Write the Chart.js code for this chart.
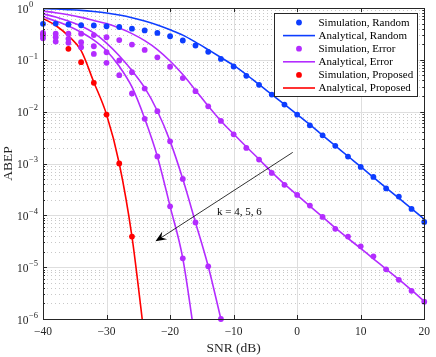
<!DOCTYPE html>
<html>
<head>
<meta charset="utf-8">
<script src="https://cdn.jsdelivr.net/npm/chart.js@4.4.0/dist/chart.umd.min.js"></script>
<style>
    html, body { margin: 0; padding: 0; background: #ffffff; }
    #wrap { width: 436px; height: 357px; }
</style>
</head>
<body>
<div id="wrap"><canvas id="chart" width="436" height="357"></canvas></div>
<script>
// SNR grid (dB), every 2 dB
const snr = [-40, -38, -36, -34, -32, -30, -28, -26, -24, -22, -20, -18, -16, -14, -12, -10,
    -8, -6, -4, -2, 0, 2, 4, 6, 8, 10, 12, 14, 16, 18, 20];

// Random
const simRandom = [0.495, 0.50, 0.48, 0.465, 0.46, 0.445, 0.43, 0.40, 0.37, 0.33, 0.285, 0.236, 0.189,
    0.143, 0.104, 0.0743, 0.0491, 0.0329, 0.0214, 0.0137, 0.0088, 0.00546, 0.0035, 0.00219, 0.00136,
    0.00086, 0.00055, 0.00033, 0.00023, 0.000133, 0.0000746];
const anaRandom = [0.97, 0.955, 0.93, 0.90, 0.855, 0.80, 0.73, 0.65, 0.56, 0.47, 0.38, 0.30, 0.22,
    0.157, 0.111, 0.078, 0.052, 0.0335, 0.0215, 0.0138, 0.0088, 0.0056, 0.0035, 0.0022, 0.00138,
    0.00087, 0.00054, 0.00034, 0.000215, 0.000135, 0.000084];

// Error, k = 4
const simErrK4 = [0.33, 0.32, 0.32, 0.32, 0.30, 0.273, 0.241, 0.197, 0.155, 0.112, 0.0736, 0.0445, 0.0248,
    0.0127, 0.00664, 0.00365, 0.002, 0.00119, 0.000659, 0.000387, 0.000248, 0.000154, 9.3e-5, 5.5e-5,
    3.9e-5, 2.52e-5, 1.62e-5, 9.1e-6, 5.7e-6, 3.5e-6, 2.16e-6];
const anaErrK4 = [0.87, 0.81, 0.74, 0.66, 0.575, 0.50, 0.41, 0.32, 0.234, 0.158, 0.095, 0.052, 0.026,
    0.0128, 0.0066, 0.0037, 0.0021, 0.00121, 0.00068, 0.0004, 0.000245, 0.00015, 9.3e-5, 5.7e-5,
    3.6e-5, 2.3e-5, 1.45e-5, 9.2e-6, 5.8e-6, 3.6e-6, 2.2e-6];

// Error, k = 5
const simErrK5 = [0.294, 0.273, 0.254, 0.219, 0.183, 0.14, 0.097, 0.0577, 0.0279, 0.0102, 0.00268,
    0.000504, 7.3e-5, 1.04e-5, 1.0e-6];
const anaErrK5 = [0.77, 0.67, 0.56, 0.45, 0.33, 0.21, 0.12, 0.062, 0.029, 0.0103, 0.0027, 0.0005,
    7.3e-5, 1.04e-5, 1.0e-6, 1.0e-7];

// Error, k = 6
const simErrK6 = [0.261, 0.226, 0.213, 0.175, 0.13, 0.0875, 0.0505, 0.0224, 0.00726, 0.00137, 0.000149, 1.48e-5];
const anaErrK6 = [0.68, 0.56, 0.45, 0.34, 0.24, 0.15, 0.075, 0.03, 0.0074, 0.00137, 0.000149, 1.48e-5, 3.5e-7];

// Proposed
const simProposed = [0.31, null, 0.163, 0.09, 0.036, 0.0088, 0.001, 3.9e-5];
const anaProposed = [0.63, 0.46, 0.29, 0.15, 0.037, 0.0088, 0.001, 3.9e-5, 4e-7];

// Axes
const xTicks = [-40, -30, -20, -10, 0, 10, 20];
const yDecades = [0, -1, -2, -3, -4, -5, -6];
const legendLabels = ['Simulation, Random', 'Analytical, Random', 'Simulation, Error',
    'Analytical, Error', 'Simulation, Proposed', 'Analytical, Proposed'];

// Annotation (data coordinates)
const arrowFrom = { x: -0.7, y: 1.64e-3 };
const arrowTo = { x: -22.3, y: 3.15e-5 };
const kLabel = { x: -12.6, y: 1.14e-4, text: 'k = 4, 5, 6' };

const SERIF = "'Liberation Serif', 'Times New Roman', serif";
const AXIS = '#262626';
const BLUE = '#0d3dff';
const PURPLE = '#b32cff';
const RED = '#ff0000';

function toPoints(ys) {
    return snr.map((x, i) => ({ x: x, y: ys[i] })).filter(p => p.y != null && p.y !== undefined);
}

function simSet(label, ys, color, order) {
    return {
        label: label,
        data: toPoints(ys),
        showLine: false,
        pointRadius: 2.9,
        pointBorderWidth: 0,
        pointBackgroundColor: color,
        borderColor: color,
        backgroundColor: color,
        clip: 5,
        order: order
    };
}

function anaSet(label, ys, color, order) {
    return {
        label: label,
        data: toPoints(ys),
        borderColor: color,
        backgroundColor: color,
        borderWidth: 1.6,
        pointRadius: 0,
        cubicInterpolationMode: 'monotone',
        order: order
    };
}

const px = v => Math.round(v) + 0.5;

const framePlugin = {
    id: 'frame',
    beforeDatasetsDraw(chart) {
        const { ctx, chartArea: a, scales: { x, y } } = chart;
        ctx.save();
        // minor grid (dotted)
        ctx.strokeStyle = '#c8c8c8';
        ctx.lineWidth = 1;
        ctx.setLineDash([1, 3]);
        yDecades.forEach(e => {
            if (e === 0) return;
            for (let m = 2; m <= 9; m++) {
                const yy = px(y.getPixelForValue(m * Math.pow(10, e)));
                ctx.beginPath();
                ctx.moveTo(a.left, yy);
                ctx.lineTo(a.right, yy);
                ctx.stroke();
            }
        });
        // major grid
        ctx.setLineDash([]);
        ctx.strokeStyle = '#dedede';
        xTicks.forEach(t => {
            const xx = px(x.getPixelForValue(t));
            ctx.beginPath();
            ctx.moveTo(xx, a.top);
            ctx.lineTo(xx, a.bottom);
            ctx.stroke();
        });
        yDecades.forEach(e => {
            const yy = px(y.getPixelForValue(Math.pow(10, e)));
            ctx.beginPath();
            ctx.moveTo(a.left, yy);
            ctx.lineTo(a.right, yy);
            ctx.stroke();
        });
        ctx.restore();
    },
    afterDatasetsDraw(chart) {
        const { ctx, chartArea: a, scales: { x, y } } = chart;
        ctx.save();

        // box
        ctx.strokeStyle = AXIS;
        ctx.lineWidth = 1;
        ctx.strokeRect(px(a.left), px(a.top), Math.round(a.right - a.left), Math.round(a.bottom - a.top));

        // inward ticks
        ctx.beginPath();
        xTicks.forEach(t => {
            const xx = px(x.getPixelForValue(t));
            ctx.moveTo(xx, a.bottom); ctx.lineTo(xx, a.bottom - 4);
            ctx.moveTo(xx, a.top); ctx.lineTo(xx, a.top + 4);
        });
        yDecades.forEach(e => {
            const yy = px(y.getPixelForValue(Math.pow(10, e)));
            ctx.moveTo(a.left, yy); ctx.lineTo(a.left + 4, yy);
            ctx.moveTo(a.right, yy); ctx.lineTo(a.right - 4, yy);
            if (e === 0) return;
            for (let m = 2; m <= 9; m++) {
                const ym = px(y.getPixelForValue(m * Math.pow(10, e)));
                ctx.moveTo(a.left, ym); ctx.lineTo(a.left + 2, ym);
                ctx.moveTo(a.right, ym); ctx.lineTo(a.right - 2, ym);
            }
        });
        ctx.stroke();

        // y tick labels 10^e
        ctx.fillStyle = AXIS;
        ctx.textAlign = 'left';
        ctx.textBaseline = 'middle';
        yDecades.forEach(e => {
            const yy = y.getPixelForValue(Math.pow(10, e));
            ctx.font = '11.5px ' + SERIF;
            ctx.fillText('10', 17, yy + 1.5);
            const w = ctx.measureText('10').width;
            ctx.font = '8.5px ' + SERIF;
            ctx.fillText(e === 0 ? '0' : '\u2212' + (-e), 17 + w + 0.5, yy - 3.5);
        });

        // arrow
        const x0 = x.getPixelForValue(arrowFrom.x), y0 = y.getPixelForValue(arrowFrom.y);
        const x1 = x.getPixelForValue(arrowTo.x), y1 = y.getPixelForValue(arrowTo.y);
        const ang = Math.atan2(y1 - y0, x1 - x0);
        ctx.strokeStyle = '#000000';
        ctx.lineWidth = 0.8;
        ctx.beginPath();
        ctx.moveTo(x0, y0);
        ctx.lineTo(x1 - 6 * Math.cos(ang), y1 - 6 * Math.sin(ang));
        ctx.stroke();
        const len = 11, half = 4.5, notch = 7;
        const cos = Math.cos(ang), sin = Math.sin(ang);
        ctx.fillStyle = '#000000';
        ctx.beginPath();
        ctx.moveTo(x1, y1);
        ctx.lineTo(x1 - len * cos - half * sin, y1 - len * sin + half * cos);
        ctx.lineTo(x1 - notch * cos, y1 - notch * sin);
        ctx.lineTo(x1 - len * cos + half * sin, y1 - len * sin - half * cos);
        ctx.closePath();
        ctx.fill();

        // k label
        ctx.fillStyle = '#000000';
        ctx.font = '11px ' + SERIF;
        ctx.textAlign = 'left';
        ctx.textBaseline = 'middle';
        ctx.fillText(kLabel.text, x.getPixelForValue(kLabel.x), y.getPixelForValue(kLabel.y));

        // legend
        const colors = [BLUE, BLUE, PURPLE, PURPLE, RED, RED];
        const bw = 143, bh = 83;
        const bx = Math.round(a.right - 7 - bw), by = Math.round(a.top + 5);
        ctx.fillStyle = '#ffffff';
        ctx.fillRect(bx, by, bw, bh);
        ctx.strokeStyle = AXIS;
        ctx.lineWidth = 1;
        ctx.strokeRect(bx + 0.5, by + 0.5, bw, bh);
        legendLabels.forEach((label, i) => {
            const ry = by + 9.5 + i * 13.1;
            ctx.fillStyle = colors[i];
            ctx.strokeStyle = colors[i];
            if (i % 2 === 0) {
                ctx.beginPath();
                ctx.arc(bx + 25, ry, 2.9, 0, Math.PI * 2);
                ctx.fill();
            } else {
                ctx.lineWidth = 1.6;
                ctx.beginPath();
                ctx.moveTo(bx + 9, ry);
                ctx.lineTo(bx + 41, ry);
                ctx.stroke();
            }
            ctx.fillStyle = '#000000';
            ctx.font = '11px ' + SERIF;
            ctx.fillText(label, bx + 44.5, ry + 0.5);
        });

        ctx.restore();
    }
};

new Chart(document.getElementById('chart'), {
    type: 'line',
    data: {
        datasets: [
            simSet('Simulation, Random', simRandom, BLUE, 1),
            anaSet('Analytical, Random', anaRandom, BLUE, 2),
            simSet('Simulation, Error', simErrK4, PURPLE, 3),
            simSet('Simulation, Error k=5', simErrK5, PURPLE, 3),
            simSet('Simulation, Error k=6', simErrK6, PURPLE, 3),
            anaSet('Analytical, Error', anaErrK4, PURPLE, 4),
            anaSet('Analytical, Error k=5', anaErrK5, PURPLE, 4),
            anaSet('Analytical, Error k=6', anaErrK6, PURPLE, 4),
            simSet('Simulation, Proposed', simProposed, RED, 5),
            anaSet('Analytical, Proposed', anaProposed, RED, 6)
        ]
    },
    options: {
        responsive: false,
        animation: false,
        events: [],
        layout: { padding: { top: 8, right: 8, bottom: 0, left: 0 } },
        plugins: {
            legend: { display: false },
            tooltip: { enabled: false }
        },
        scales: {
            x: {
                type: 'linear',
                position: 'bottom',
                min: -40,
                max: 20,
                afterBuildTicks: scale => { scale.ticks = xTicks.map(v => ({ value: v })); },
                afterFit: scale => { scale.height = 38; },
                ticks: {
                    padding: 6,
                    color: AXIS,
                    font: { family: SERIF, size: 11.5 },
                    maxRotation: 0,
                    callback: v => (v < 0 ? '\u2212' + Math.abs(v) : String(v))
                },
                grid: { display: false, drawTicks: false },
                border: { display: false },
                title: {
                    display: true,
                    text: 'SNR (dB)',
                    color: AXIS,
                    font: { family: SERIF, size: 13.5 },
                    padding: 0
                }
            },
            y: {
                type: 'logarithmic',
                min: 1e-6,
                max: 1,
                afterFit: scale => { scale.width = 43; },
                ticks: { display: false },
                grid: { display: false },
                border: { display: false },
                title: {
                    display: true,
                    text: 'ABEP',
                    color: AXIS,
                    font: { family: SERIF, size: 13.5 },
                    padding: 0
                }
            }
        }
    },
    plugins: [framePlugin]
});
</script>
</body>
</html>
